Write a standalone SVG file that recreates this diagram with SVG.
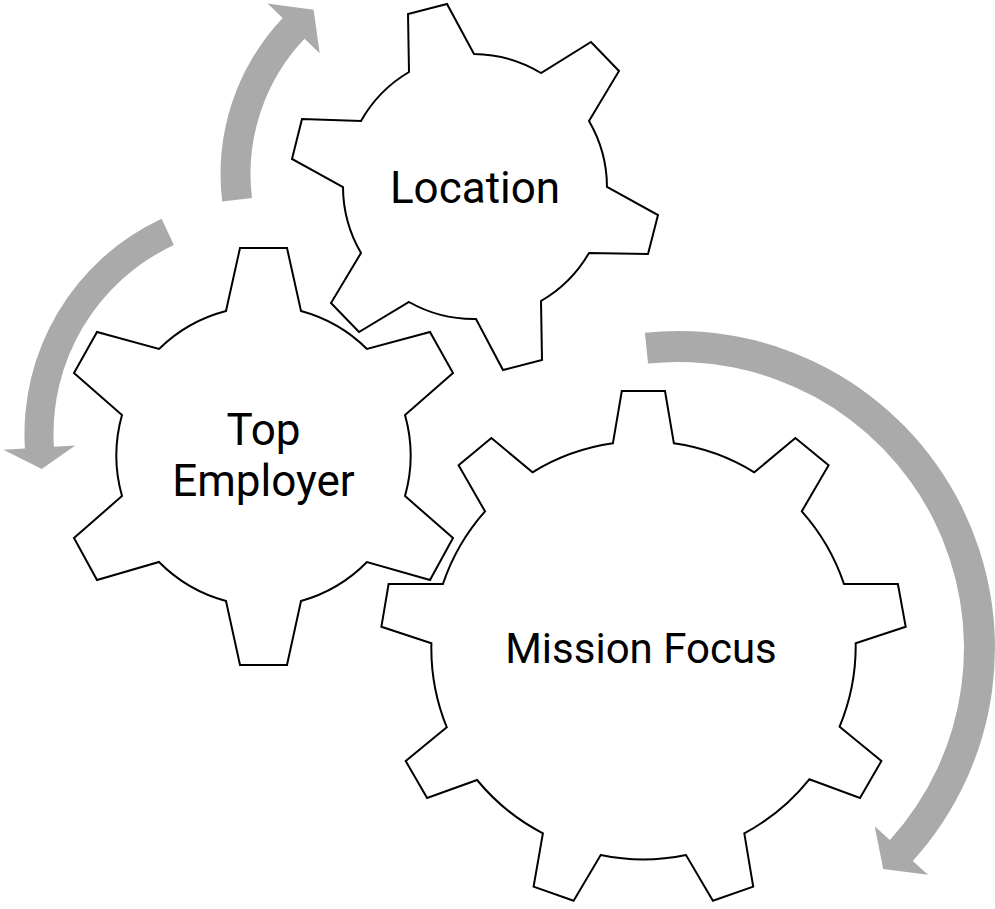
<svg xmlns="http://www.w3.org/2000/svg" width="995" height="909" viewBox="0 0 995 909">
<style>
.gear{fill:#ffffff;stroke:#000000;stroke-width:2;stroke-linejoin:miter}
.arrow{fill:#AAAAAA;stroke:none}
.label{font-family:Roboto,"DejaVu Sans",sans-serif;fill:#000000;text-anchor:middle}
</style>
<rect width="995" height="909" fill="#ffffff"/>
<g id="connectors">
<path class="arrow" d="M 222.2,201.6 A 226.5 226.5 0 0 1 282.7,18.1 L 267.5,3.6 L 313.6,9.8 L 319.7,53.2 L 304.5,38.7 A 196.5 196.5 0 0 0 252.0,198.0 Z"/>
<path class="arrow" d="M 161.6,218.7 A 237.5 237.5 0 0 0 24.9,448.5 L 3.5,449.8 L 41.7,468.9 L 75.3,445.4 L 53.9,446.7 A 208.5 208.5 0 0 1 173.9,245.0 Z"/>
<path class="arrow" d="M 644.9,332.7 A 317 317 0 0 1 912.8,860.9 L 928.0,874.7 L 883.2,868.9 L 874.7,826.3 L 889.9,840.1 A 286 286 0 0 0 648.1,363.6 Z"/>
</g>
<g id="mission-focus">
<path class="gear" d="M 612.9,443.3 L 621.8,391 L 665,391 L 673.9,443.3 A 210 210 0 0 1 754.3,472.3 L 795.4,438 L 828.6,465.3 L 801.8,511.3 A 210 210 0 0 1 844,584 L 897.9,584 L 905.7,626.7 L 855.7,643.3 A 210 210 0 0 1 839.6,726.7 L 881.4,761 L 860,798 L 809.3,779.3 A 210 210 0 0 1 744.3,833.3 L 753.2,886.7 L 712.9,900.7 L 686,855 A 210 210 0 0 1 600.7,855 L 573.6,900.7 L 533.6,886.7 L 542.9,833.3 A 210 210 0 0 1 477.1,780 L 427.1,798 L 405.7,761 L 446.8,727.3 A 210 210 0 0 1 431.4,643.3 L 381.4,626.7 L 388.6,584 L 442.9,584 A 210 210 0 0 1 485,511.3 L 458.6,465.3 L 491.4,438 L 532.5,472.3 A 210 210 0 0 1 612.9,443.3 Z"/>
<text class="label" x="641" y="663" font-size="42">Mission Focus</text>
</g>
<g id="top-employer">
<path class="gear" d="M 226,311 L 240,248 L 287,248 L 301,311 A 149 149 0 0 1 367,349 L 430,332 L 453,373 L 405,415 A 149 149 0 0 1 405,496 L 453,538 L 430,580 L 367,562 A 149 149 0 0 1 301,601 L 287,665 L 240,665 L 226,601 A 149 149 0 0 1 159,562 L 97,580 L 74,538 L 122,496 A 149 149 0 0 1 122,415 L 74,373 L 97,332 L 159,349 A 149 149 0 0 1 226,311 Z"/>
<text class="label" x="263.5" y="445" font-size="44">Top</text>
<text class="label" x="263.5" y="496" font-size="44">Employer</text>
</g>
<g id="location">
<path class="gear" d="M 409,72 L 408,14 L 447,4 L 474,54 A 132 132 0 0 1 541,73 L 591,42 L 619,71 L 589,121 A 132 132 0 0 1 607,187 L 658,215 L 648,254 L 589,253 A 132 132 0 0 1 541,301 L 542,360 L 503,370 L 476,319 A 132 132 0 0 1 409,302 L 359,332 L 331,303 L 361,253 A 132 132 0 0 1 343,187 L 292,159 L 302,119 L 361,121 A 132 132 0 0 1 409,72 Z"/>
<text class="label" x="475" y="203" font-size="44">Location</text>
</g>
</svg>
